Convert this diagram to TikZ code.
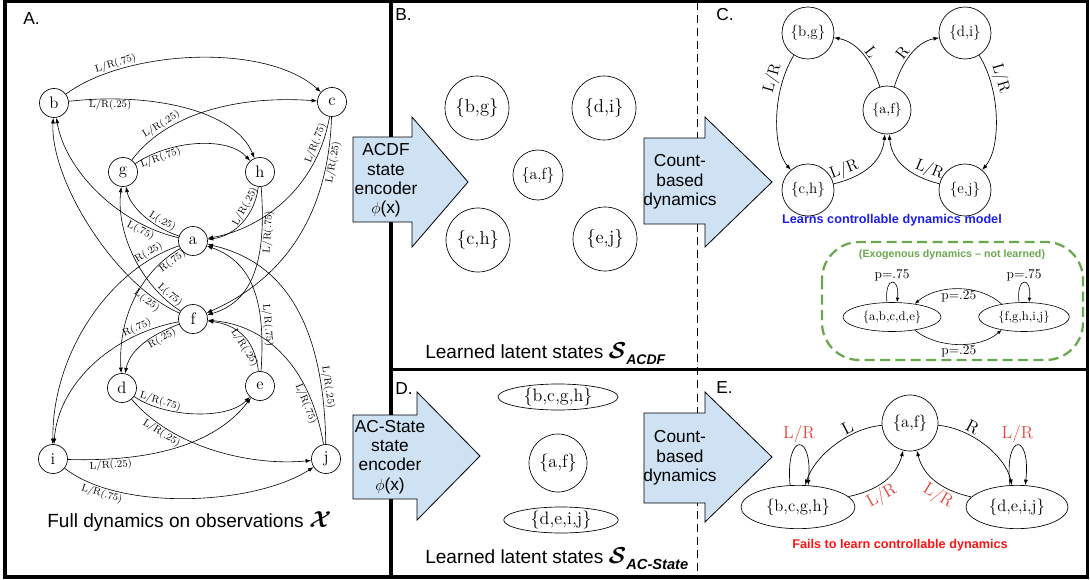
\documentclass[tikz,border=0pt]{standalone}
\usepackage{fontspec}
\usepackage{amsmath,bm}
\usetikzlibrary{arrows.meta,shapes.geometric}
\newfontfamily\sff{Liberation Sans}
\definecolor{arrowfill}{RGB}{207,226,243}
\definecolor{exogreen}{RGB}{106,168,79}
\definecolor{learnblue}{RGB}{30,30,235}
\definecolor{failred}{RGB}{250,20,20}
\definecolor{lrred}{RGB}{228,70,60}
\newcommand{\calS}{{\fontsize{18}{18}\selectfont$\boldsymbol{\mathcal{S}}$}}
\newcommand{\calX}{{\fontsize{18}{18}\selectfont$\boldsymbol{\mathcal{X}}$}}
\newcommand{\subtag}[2]{\raisebox{-4.5pt}{\fontsize{#1}{#1}\selectfont\bfseries\itshape #2}}
\tikzset{
  frameline/.style={line width=2.3pt},
  obs/.style={circle,draw,line width=0.5pt,minimum size=21.75pt,inner sep=0pt,font=\fontsize{12.5}{14}\selectfont},
  tlab/.style={font=\fontsize{7.6}{8}\selectfont,inner sep=0.8pt},
  oarr/.style={line width=0.45pt,-{Latex[length=4.2pt,width=3pt]}},
  latbig/.style={circle,draw,line width=0.5pt,minimum size=48pt,inner sep=0pt,font=\fontsize{14}{16}\selectfont},
  latmid/.style={circle,draw,line width=0.5pt,minimum size=37.5pt,inner sep=0pt,font=\fontsize{12}{14}\selectfont},
  latell/.style={ellipse,draw,line width=0.5pt,minimum height=19.5pt,inner sep=0pt,font=\fontsize{13.5}{15}\selectfont},
  latcirc/.style={circle,draw,line width=0.5pt,minimum size=43.5pt,inner sep=0pt,font=\fontsize{13.5}{15}\selectfont},
  ctl/.style={circle,draw,line width=0.5pt,minimum size=39pt,inner sep=0pt,font=\fontsize{11.3}{13}\selectfont},
  carr/.style={line width=0.5pt,-{Latex[length=4.2pt,width=3pt]}},
  clab/.style={font=\fontsize{12}{13}\selectfont,inner sep=1.5pt},
  enode/.style={draw,line width=0.5pt,inner sep=0pt,font=\fontsize{12.5}{14}\selectfont},
  lrlab/.style={text=lrred,font=\fontsize{13}{14}\selectfont,inner sep=1.5pt},
  exell/.style={ellipse,draw,line width=0.45pt,minimum height=21.75pt,inner sep=0pt,font=\fontsize{9.5}{11}\selectfont},
  exarr/.style={line width=0.45pt,-{Latex[length=3.5pt,width=2.6pt]}},
  exlab/.style={font=\fontsize{10}{11}\selectfont,inner sep=1pt},
  blockarrow/.style={draw,line width=0.6pt,fill=arrowfill,line join=miter},
  atext/.style={align=center,font=\sff\fontsize{13}{14.5}\selectfont,inner sep=0pt},
  ptitle/.style={font=\sff\fontsize{13}{15}\selectfont,inner sep=0pt,anchor=west},
  capt/.style={font=\sff\fontsize{14.3}{16}\selectfont,inner sep=0pt,anchor=base west},
  note/.style={font=\sff\bfseries\fontsize{9.5}{11}\selectfont,inner sep=0pt},
}
\begin{document}
\begin{tikzpicture}[x=0.75pt,y=-0.75pt]
\useasboundingbox (0,0) rectangle (1090,579);

% ---------- panel frames ----------
\draw[frameline] (5,1.5) rectangle (1087.5,577);
\draw[frameline] (391,1.5) -- (391,577);
\draw[frameline] (391,369.5) -- (1087.5,369.5);
\draw[line width=0.75pt,dash pattern=on 6pt off 3.8pt] (697,1.5) -- (697,577);

% ---------- panel titles ----------
\node[ptitle] (tA) at (23,19) {A.};
\node[ptitle] (tB) at (395,15) {B.};
\node[ptitle] (tC) at (716,15) {C.};
\node[ptitle] (tD) at (395,389) {D.};
\node[ptitle] (tE) at (716,388) {E.};

% ---------- A: observation graph ----------
\node[obs] (b) at (54,103) {b};
\node[obs] (c) at (332,102) {c};
\node[obs] (g) at (123,172) {g};
\node[obs] (h) at (260,172) {h};
\node[obs] (a) at (193,241) {a};
\node[obs] (f) at (193,319) {f};
\node[obs] (d) at (122,388) {d};
\node[obs] (e) at (260,386) {e};
\node[obs] (i) at (53,459) {i};
\node[obs] (j) at (326,459) {j};

\draw[oarr] (b) .. controls (125,50) and (265,42) .. (c) node[tlab,pos=0.23,sloped,above]{L/R(.75)};
\draw[oarr] (b) .. controls (150,92) and (235,110) .. (h) node[tlab,pos=0.17,sloped,below]{L/R(.25)};
\draw[oarr] (g) .. controls (165,115) and (235,95) .. (c) node[tlab,pos=0.26,sloped,above]{L/R(.25)};
\draw[oarr] (g) .. controls (170,140) and (228,136) .. (h) node[tlab,pos=0.2,sloped,below]{L/R(.75)};
\draw[oarr] (c) .. controls (318,185) and (265,228) .. (a) node[tlab,pos=0.15,sloped,above]{L/R(.75)};
\draw[oarr] (c) .. controls (328,230) and (270,285) .. (f) node[tlab,pos=0.14,sloped,below]{L/R(.25)};
\draw[oarr] (h) .. controls (255,215) and (235,236) .. (a) node[tlab,pos=0.3,sloped,above]{L/R(.25)};
\draw[oarr] (h) .. controls (267,262) and (252,302) .. (f) node[tlab,pos=0.22,sloped,below]{L/R(.75)};

\draw[oarr] (a) .. controls (150,226) and (130,206) .. (g) node[tlab,pos=0.25,sloped,above]{L(.25)};
\draw[oarr] (a) .. controls (118,224) and (65,170) .. (b) node[tlab,pos=0.2,sloped,below]{L(.75)};
\draw[oarr] (a) .. controls (140,272) and (118,318) .. (d) node[tlab,pos=0.1,sloped,below]{R(.75)};
\draw[oarr] (a) .. controls (108,270) and (52,355) .. (i) node[tlab,pos=0.13,sloped,above]{R(.25)};
\draw[oarr] (f) .. controls (140,285) and (116,232) .. (g) node[tlab,pos=0.13,sloped,above]{L(.75)};
\draw[oarr] (f) .. controls (115,285) and (50,180) .. (b) node[tlab,pos=0.15,sloped,below]{L(.25)};
\draw[oarr] (f) .. controls (150,335) and (130,350) .. (d) node[tlab,pos=0.25,sloped,below]{R(.25)};
\draw[oarr] (f) .. controls (110,335) and (58,385) .. (i) node[tlab,pos=0.2,sloped,above]{R(.75)};

\draw[oarr] (d) .. controls (165,418) and (228,420) .. (e) node[tlab,pos=0.22,sloped,above]{L/R(.75)};
\draw[oarr] (d) .. controls (175,450) and (255,466) .. (j) node[tlab,pos=0.22,sloped,below]{L/R(.25)};
\draw[oarr] (i) .. controls (150,462) and (215,445) .. (e) node[tlab,pos=0.18,sloped,below]{L/R(.25)};
\draw[oarr] (i) .. controls (120,512) and (255,505) .. (j) node[tlab,pos=0.19,sloped,below]{L/R(.75)};
\draw[oarr] (e) .. controls (255,340) and (238,325) .. (f) node[tlab,pos=0.35,sloped,below]{L/R(.25)};
\draw[oarr] (e) .. controls (266,300) and (252,262) .. (a) node[tlab,pos=0.24,sloped,above]{L/R(.75)};
\draw[oarr] (j) .. controls (310,365) and (265,325) .. (f) node[tlab,pos=0.2,sloped,below]{L/R(.75)};
\draw[oarr] (j) .. controls (324,325) and (285,262) .. (a) node[tlab,pos=0.17,sloped,above]{L/R(.25)};

\node[capt] (capA) at (47,527) {Full dynamics on observations \calX};

% ---------- encoder and dynamics arrows ----------
\draw[blockarrow] (353,137) -- (412,137) -- (412,117) -- (468,182) -- (412,247) -- (412,222) -- (353,222) -- cycle;
\node[atext] (acdf) at (386,180.5) {ACDF\\state\\encoder\\$\phi$(x)};
\draw[blockarrow] (353,415) -- (417,415) -- (417,392) -- (480,456) -- (417,520) -- (417,499) -- (353,499) -- cycle;
\node[atext] (acst) at (390,457) {AC-State\\state\\encoder\\$\phi$(x)};
\draw[blockarrow] (644,138) -- (705,138) -- (705,117) -- (772,182) -- (705,247) -- (705,224) -- (644,224) -- cycle;
\node[atext] (cbd1) at (680,182) {Count-\\based\\dynamics};
\draw[blockarrow] (644,413) -- (705,413) -- (705,392) -- (772,457) -- (705,522) -- (705,503) -- (644,503) -- cycle;
\node[atext] (cbd2) at (680,458) {Count-\\based\\dynamics};

% ---------- B: ACDF latent states ----------
\node[latbig] (Bbg) at (477,108) {\{b,g\}};
\node[latbig] (Bdi) at (604,108) {\{d,i\}};
\node[latmid] (Baf) at (538,175) {\{a,f\}};
\node[latbig] (Bch) at (478,240) {\{c,h\}};
\node[latbig] (Bej) at (605,239) {\{e,j\}};
\node[capt] (capB) at (425,358) {Learned latent states \calS\subtag{10.5}{ACDF}};

% ---------- C: controllable dynamics ----------
\node[ctl] (Cbg) at (808,33) {\{b,g\}};
\node[ctl] (Cdi) at (965,33) {\{d,i\}};
\node[ctl,minimum size=36pt,font=\fontsize{10.6}{12}\selectfont] (Caf) at (887,110) {\{a,f\}};
\node[ctl] (Cch) at (808,190) {\{c,h\}};
\node[ctl] (Cej) at (965,190) {\{e,j\}};
\draw[carr] (Cbg) .. controls (772,90) and (772,148) .. (Cch) node[clab,pos=0.22,sloped,above]{L/R};
\draw[carr] (Cdi) .. controls (1001,90) and (1001,148) .. (Cej) node[clab,pos=0.22,sloped,above]{L/R};
\draw[carr] (Caf) .. controls (872,62) and (858,42) .. (Cbg) node[clab,pos=0.45,sloped,above]{L};
\draw[carr] (Caf) .. controls (902,62) and (916,42) .. (Cdi) node[clab,pos=0.45,sloped,above]{R};
\draw[carr] (Cch) .. controls (858,178) and (882,165) .. (Caf) node[clab,pos=0.2,sloped,above]{L/R};
\draw[carr] (Cej) .. controls (916,178) and (892,165) .. (Caf) node[clab,pos=0.2,sloped,above]{L/R};
\node[note,text=learnblue] (learn) at (892,220) {Learns controllable dynamics model};

% exogenous part
\draw[exogreen,line width=1.7pt,dash pattern=on 7.5pt off 4pt,rounded corners=28pt] (822,242) rectangle (1083,360);
\node[note,text=exogreen,font=\sff\bfseries\fontsize{8}{9}\selectfont] (exot) at (952,255) {(Exogenous dynamics – not learned)};
\node[exell,minimum width=73.5pt] (X1) at (892,317) {\{a,b,c,d,e\}};
\node[exell,minimum width=68pt] (X2) at (1024,317) {\{f,g,h,i,j\}};
\draw[exarr] (X1.109) .. controls (884,276) and (900,276) .. (X1.71) node[exlab,pos=0.5,above]{p=.75};
\draw[exarr] (X2.109) .. controls (1016,276) and (1032,276) .. (X2.71) node[exlab,pos=0.5,above]{p=.75};
\draw[exarr] (X2.150) .. controls (980,284) and (938,284) .. (X1.30) node[exlab,midway,below]{p=.25};
\draw[exarr] (X1.-30) .. controls (938,349) and (980,349) .. (X2.-150) node[exlab,midway,below]{p=.25};

% ---------- D: AC-State latent states ----------
\node[latell,minimum width=90pt] (Dbcgh) at (558,397) {\{b,c,g,h\}};
\node[latcirc] (Daf) at (558,463) {\{a,f\}};
\node[latell,minimum width=86pt] (Ddeij) at (561,520) {\{d,e,i,j\}};
\node[capt] (capD) at (425,563) {Learned latent states \calS\subtag{11}{AC-State}};

% ---------- E: AC-State dynamics ----------
\node[enode,circle,minimum size=42pt] (Eaf) at (910,423) {\{a,f\}};
\node[enode,ellipse,minimum width=85.5pt,minimum height=32.5pt] (Ebcgh) at (798,507) {\{b,c,g,h\}};
\node[enode,ellipse,minimum width=76.5pt,minimum height=32.5pt] (Edeij) at (1017,507) {\{d,e,i,j\}};
\draw[carr] (Eaf) .. controls (850,428) and (815,455) .. (Ebcgh) node[clab,font=\fontsize{13}{14}\selectfont,pos=0.32,sloped,above]{L};
\draw[carr] (Eaf) .. controls (970,428) and (1005,455) .. (Edeij) node[clab,font=\fontsize{13}{14}\selectfont,pos=0.32,sloped,above]{R};
\draw[carr] (Ebcgh) .. controls (880,490) and (897,475) .. (Eaf) node[lrlab,pos=0.35,sloped,below]{L/R};
\draw[carr] (Edeij) .. controls (940,490) and (923,475) .. (Eaf) node[lrlab,pos=0.35,sloped,below]{L/R};
\draw[carr] (Ebcgh.110) .. controls (785,432) and (813,432) .. (Ebcgh.65) node[lrlab,pos=0.5,above]{L/R};
\draw[carr] (Edeij.108) .. controls (1004,432) and (1031,432) .. (Edeij.69) node[lrlab,pos=0.5,above]{L/R};
\node[note,text=failred] (fail) at (900,545) {Fails to learn controllable dynamics};

\end{tikzpicture}
\end{document}
